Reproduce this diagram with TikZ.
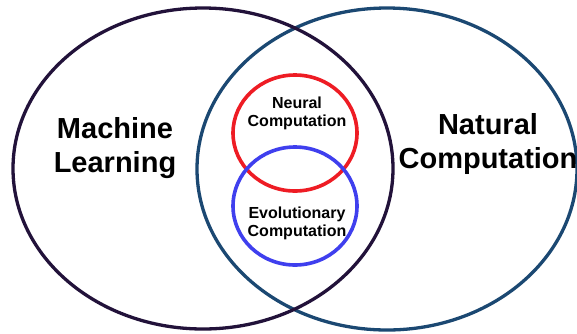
\documentclass[tikz,border=0pt]{standalone}
\usepackage{fontspec}
\setmainfont{Liberation Sans}
\definecolor{mlcol}{HTML}{22123A}
\definecolor{nccol}{HTML}{1B4872}
\definecolor{nrcol}{HTML}{EE1C24}
\definecolor{evcol}{HTML}{3F3FEE}
\tikzset{
  bigset/.style={line width=3.3pt},
  smallset/.style={line width=3.6pt},
  biglabel/.style={align=center, font=\bfseries\fontsize{29}{34}\selectfont, inner sep=0pt},
  smalllabel/.style={align=center, font=\bfseries\fontsize{16}{18}\selectfont, inner sep=0pt}
}
\begin{document}
\begin{tikzpicture}[x=1pt,y=-1pt]
\useasboundingbox (0,0) rectangle (577,333);
\fill[white] (0,0) rectangle (577,333);
\draw[bigset, draw=nccol] (387,169) ellipse [x radius=190, y radius=161];
\draw[bigset, draw=mlcol] (203,168.5) ellipse [x radius=190, y radius=160.5];
\draw[smallset, draw=nrcol] (295,133) ellipse [x radius=62, y radius=58];
\draw[smallset, draw=evcol] (295,206) ellipse [x radius=62, y radius=59];
\node[biglabel] (ml) at (115,148) {Machine\\Learning};
\node[biglabel] (nc) at (488,143.5) {Natural\\Computation};
\node[smalllabel] (nn) at (297,113) {Neural\\Computation};
\node[smalllabel] (ev) at (297,223) {Evolutionary\\Computation};
\end{tikzpicture}
\end{document}
